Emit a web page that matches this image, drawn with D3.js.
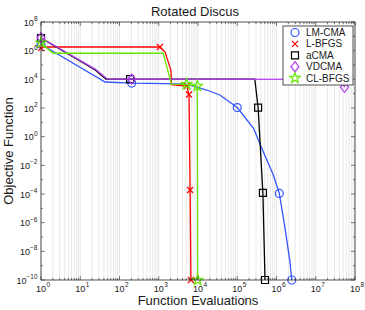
<!DOCTYPE html>
<html>
<head>
<meta charset="utf-8">
<script src="https://cdn.jsdelivr.net/npm/d3@7"></script>
<style>
  body { margin: 0; background: #fff; }
  text { font-family: "Liberation Sans", Arial, sans-serif; }
</style>
</head>
<body>
<div id="root"></div>
<script>
// series: [evaluations, objective]
const lmcma = [[1, 2.8e6], [43, 6.5e3], [204, 5.5e3], [1.4e3, 5.1e3], [5.1e3, 4.7e3], [1.66e4, 1.8e3], [3.6e4, 810],
  [1e5, 107], [2.6e5, 3.8], [4.6e5, 0.09], [8.3e5, 2.1e-3], [1.18e6, 1.1e-4], [1.65e6, 4e-7], [2.2e6, 1.9e-9], [2.45e6, 1e-10]];
const lmcmaMarks = [0, 2, 7, 11, 14];

const lbfgs = [[1, 1.5e6], [1.1, 1.8e6], [1070, 1.8e6], [1.45e3, 8e5], [2.05e3, 4.2e4], [2.1e3, 4.3e3], [5.2e3, 3.4e3],
  [5.9e3, 870], [6.3e3, 1.9e-4], [6.6e3, 1e-10]];
const lbfgsMarks = [0, 2, 6, 7, 8, 9];

const acma = [[1, 7.6e6], [24, 4.5e4], [45, 1.05e4], [186, 1.05e4], [2.8e5, 1.05e4], [3.4e5, 107], [4.5e5, 1.2e-4], [5.1e5, 1e-10]];
const acmaMarks = [0, 3, 5, 6, 7];

const vdcma = [[1, 8e6], [24, 5.2e4], [48, 1.1e4], [204, 1.05e4], [4.9e7, 1e4], [5.4e7, 2.8e3]];
const vdcmaMarks = [0, 3, 5];

const clbfgs = [[1, 3.6e6], [2, 6.6e5], [1.3e3, 6.6e5], [2.1e3, 4.7e3], [5.1e3, 4.5e3], [9.6e3, 3.4e3], [9.8e3, 1e-10]];
const clbfgsMarks = [0, 4, 5, 6];

const seriesNames = ["LM-CMA", "L-BFGS", "aCMA", "VDCMA", "CL-BFGS"];
const seriesColors = ["#3355ff", "#ff0000", "#000000", "#b23cf0", "#66e600"];
const seriesShapes = ["circle", "x", "square", "diamond", "star"];
const seriesData = [lmcma, lbfgs, acma, vdcma, clbfgs];
const seriesMarks = [lmcmaMarks, lbfgsMarks, acmaMarks, vdcmaMarks, clbfgsMarks];

const xExponents = [0, 1, 2, 3, 4, 5, 6, 7, 8];
const yExponents = [8, 6, 4, 2, 0, -2, -4, -6, -8, -10];

const width = 365, height = 310;
const plotLeft = 41, plotRight = 355, plotTop = 22, plotBottom = 280;

const svg = d3.select("#root").append("svg")
  .attr("width", width)
  .attr("height", height);

const x = d3.scaleLog().domain([1, 1e8]).range([plotLeft, plotRight]);
const y = d3.scaleLog().domain([1e-10, 1e8]).range([plotBottom, plotTop]);

// minor + major vertical grid
let gridVals = [];
for (let e = 0; e < 8; e++) {
  for (let m = 1; m < 10; m++) gridVals.push(m * Math.pow(10, e));
}
gridVals.push(1e8);

svg.append("g").selectAll("line")
  .data(gridVals)
  .enter().append("line")
  .attr("x1", d => x(d)).attr("x2", d => x(d))
  .attr("y1", plotTop).attr("y2", plotBottom)
  .style("stroke", "#e8e8e8")
  .style("stroke-width", 1);

svg.append("defs").append("clipPath").attr("id", "plotClip")
  .append("rect")
  .attr("x", plotLeft - 6).attr("y", plotTop - 6)
  .attr("width", plotRight - plotLeft + 12).attr("height", plotBottom - plotTop + 12);

let line = d3.line().x(d => x(d[0])).y(d => y(d[1]));

function markerPath(shape) {
  if (shape === "circle") return d3.symbol().type(d3.symbolCircle).size(50)();
  if (shape === "square") return "M-3.5,-3.5H3.5V3.5H-3.5Z";
  if (shape === "diamond") return "M0,-5L4,0L0,5L-4,0Z";
  if (shape === "x") return "M-3,-3L3,3M-3,3L3,-3";
  if (shape === "star") {
    let pts = [];
    for (let i = 0; i < 10; i++) {
      let r = i % 2 === 0 ? 5.5 : 2.2;
      let a = -Math.PI / 2 + i * Math.PI / 5;
      pts.push([r * Math.cos(a), r * Math.sin(a)]);
    }
    return "M" + pts.map(p => p[0].toFixed(2) + "," + p[1].toFixed(2)).join("L") + "Z";
  }
}

let plot = svg.append("g").attr("clip-path", "url(#plotClip)");

seriesData.forEach(function (data, i) {
  plot.append("path")
    .datum(data)
    .attr("d", line)
    .style("fill", "none")
    .style("stroke", seriesColors[i])
    .style("stroke-width", 1.3);

  plot.selectAll(".m" + i)
    .data(seriesMarks[i].map(k => data[k]))
    .enter().append("path")
    .attr("class", "m" + i)
    .attr("d", markerPath(seriesShapes[i]))
    .attr("transform", d => "translate(" + x(d[0]) + "," + y(d[1]) + ")")
    .style("fill", "none")
    .style("stroke", seriesColors[i])
    .style("stroke-width", 1.2);
});

// axes box
const axisColor = "#262626";
svg.append("rect")
  .attr("x", plotLeft).attr("y", plotTop)
  .attr("width", plotRight - plotLeft).attr("height", plotBottom - plotTop)
  .style("fill", "none")
  .style("stroke", axisColor)
  .style("stroke-width", 0.8);

let ticks = svg.append("g").style("stroke", axisColor).style("stroke-width", 0.6);

// x ticks, major + minor, inward on bottom and top
gridVals.forEach(function (v) {
  let major = Math.abs(Math.log10(v) - Math.round(Math.log10(v))) < 1e-9;
  let len = major ? 4 : 2;
  ticks.append("line").attr("x1", x(v)).attr("x2", x(v)).attr("y1", plotBottom).attr("y2", plotBottom - len);
  ticks.append("line").attr("x1", x(v)).attr("x2", x(v)).attr("y1", plotTop).attr("y2", plotTop + len);
});

// y ticks every decade
for (let e = -10; e <= 8; e++) {
  let len = e % 2 === 0 ? 4 : 2;
  let yy = y(Math.pow(10, e));
  ticks.append("line").attr("x1", plotLeft).attr("x2", plotLeft + len).attr("y1", yy).attr("y2", yy);
  ticks.append("line").attr("x1", plotRight).attr("x2", plotRight - len).attr("y1", yy).attr("y2", yy);
}

function fmtExp(e) { return e < 0 ? "\u2212" + Math.abs(e) : String(e); }

// x tick labels
let xl = svg.append("g").style("fill", "#1a1a1a");
xExponents.forEach(function (e) {
  let px = x(Math.pow(10, e));
  xl.append("text").attr("x", px).attr("y", 291.5)
    .attr("text-anchor", "middle").style("font-size", "9px").text("10");
  xl.append("text").attr("x", px + 5.5).attr("y", 287)
    .style("font-size", "6.5px").text(fmtExp(e));
});

// y tick labels
let yl = svg.append("g").style("fill", "#1a1a1a");
yExponents.forEach(function (e) {
  let py = y(Math.pow(10, e));
  let t = yl.append("text").attr("x", 37.5).attr("y", py + 3.5)
    .attr("text-anchor", "end").style("font-size", "9px");
  t.append("tspan").text("10");
  t.append("tspan").attr("dy", -4.5).style("font-size", "6.5px").text(fmtExp(e));
});

// title and axis labels
svg.append("text").attr("x", 195).attr("y", 15.5)
  .attr("text-anchor", "middle").style("font-size", "13px").style("fill", "#1a1a1a")
  .text("Rotated Discus");

svg.append("text").attr("x", 198).attr("y", 305.3)
  .attr("text-anchor", "middle").style("font-size", "13px").style("fill", "#1a1a1a")
  .text("Function Evaluations");

svg.append("text")
  .attr("transform", "translate(12.5," + ((plotTop + plotBottom) / 2) + ") rotate(-90)")
  .attr("text-anchor", "middle").style("font-size", "13px").style("fill", "#1a1a1a")
  .text("Objective Function");

// legend
let legend = svg.append("g");
legend.append("rect")
  .attr("x", 283).attr("y", 26).attr("width", 70).attr("height", 59)
  .style("fill", "#fff").style("stroke", axisColor).style("stroke-width", 0.8);

seriesNames.forEach(function (name, i) {
  let ly = 32.5 + i * 11.4;
  legend.append("path")
    .attr("d", markerPath(seriesShapes[i]))
    .attr("transform", "translate(295," + ly + ")")
    .style("fill", "none").style("stroke", seriesColors[i]).style("stroke-width", 1.2);
  legend.append("text")
    .attr("x", 306).attr("y", ly + 3.5)
    .style("font-size", "10px").style("fill", "#1a1a1a")
    .text(name);
});
</script>
</body>
</html>
